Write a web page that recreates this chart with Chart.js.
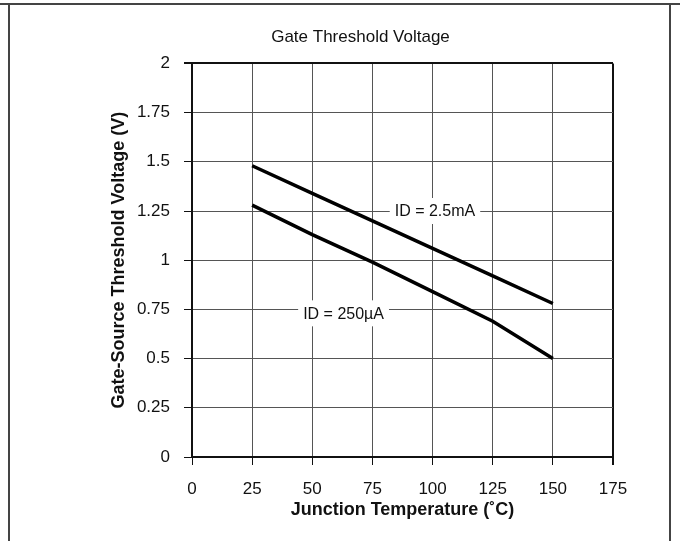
<!DOCTYPE html>
<html>
<head>
<meta charset="utf-8">
<script src="https://cdn.jsdelivr.net/npm/chart.js@4"></script>
<style>
  html, body { margin: 0; padding: 0; background: #fff; }
  #wrap { width: 680px; height: 541px; }
</style>
</head>
<body>
<div id="wrap"><canvas id="grafico" width="680" height="541"></canvas></div>
<script>
// Datos
const temperaturas = [25, 50, 75, 100, 125, 150];
const vth25mA = [1.48, 1.34, 1.20, 1.06, 0.92, 0.78];
const vth250uA = [1.28, 1.13, 0.99, 0.84, 0.69, 0.50];

const xTicks = [0, 25, 50, 75, 100, 125, 150, 175];
const yTicks = [0, 0.25, 0.5, 0.75, 1, 1.25, 1.5, 1.75, 2];
const yTickLabels = ["0", "0.25", "0.5", "0.75", "1", "1.25", "1.5", "1.75", "2"];

const etiquetas = ["ID = 2.5mA", "ID = 250µA"];
const etiquetasX = [101, 63];
const etiquetasY = [1.25, 0.73];

const fuente = "'Liberation Sans', Arial, sans-serif";

// marco exterior de la figura
const marco = {
  id: "marco",
  beforeDraw(chart) {
    const ctx = chart.ctx;
    ctx.save();
    ctx.fillStyle = "#fff";
    ctx.fillRect(0, 0, chart.width, chart.height);
    ctx.strokeStyle = "#444";
    ctx.lineWidth = 2;
    ctx.beginPath();
    ctx.moveTo(0, 4); ctx.lineTo(chart.width, 4);
    ctx.moveTo(9, 4); ctx.lineTo(9, chart.height);
    ctx.moveTo(670, 4); ctx.lineTo(670, chart.height);
    ctx.stroke();
    ctx.restore();
  }
};

// etiquetas de cada curva con fondo blanco
const rotulos = {
  id: "rotulos",
  afterDatasetsDraw(chart) {
    const { ctx, scales } = chart;
    ctx.save();
    ctx.font = "16px " + fuente;
    ctx.textAlign = "center";
    ctx.textBaseline = "middle";
    etiquetas.forEach((t, i) => {
      const px = scales.x.getPixelForValue(etiquetasX[i]);
      const py = scales.y.getPixelForValue(etiquetasY[i]);
      const w = ctx.measureText(t).width + 10;
      ctx.fillStyle = "#fff";
      ctx.fillRect(px - w / 2, py - 13, w, 26);
      ctx.fillStyle = "#111";
      ctx.fillText(t, px, py + 1);
    });
    ctx.restore();
  }
};

function colorGrid(ctx, max) {
  const v = ctx.tick ? ctx.tick.value : null;
  return v === max ? "#111" : "#555";
}
function anchoGrid(ctx, max) {
  const v = ctx.tick ? ctx.tick.value : null;
  return v === max ? 2 : 1;
}

new Chart(document.getElementById("grafico"), {
  type: "line",
  data: {
    labels: temperaturas,
    datasets: [
      { label: etiquetas[0], data: temperaturas.map((t, i) => ({ x: t, y: vth25mA[i] })) },
      { label: etiquetas[1], data: temperaturas.map((t, i) => ({ x: t, y: vth250uA[i] })) }
    ]
  },
  options: {
    responsive: false,
    animation: false,
    devicePixelRatio: 1,
    layout: { padding: { left: 108, right: 67, top: 0, bottom: 20 } },
    elements: {
      line: { borderColor: "#000", borderWidth: 3.5, tension: 0 },
      point: { radius: 0 }
    },
    plugins: {
      legend: { display: false },
      tooltip: { enabled: false },
      title: {
        display: true,
        text: "Gate Threshold Voltage",
        color: "#111",
        font: { family: fuente, size: 17, weight: "normal", lineHeight: 1.2 },
        padding: { top: 27, bottom: 16 }
      }
    },
    scales: {
      x: {
        type: "linear",
        min: 0, max: 175,
        afterBuildTicks: s => { s.ticks = xTicks.map(v => ({ value: v })); },
        afterFit: s => { s.height = 64; },
        ticks: { color: "#111", font: { family: fuente, size: 17 }, padding: 14, maxRotation: 0 },
        grid: {
          color: c => colorGrid(c, 175),
          lineWidth: c => anchoGrid(c, 175),
          tickLength: 8,
          tickColor: "#111"
        },
        border: { color: "#111", width: 2 },
        title: {
          display: true,
          text: "Junction Temperature (˚C)",
          color: "#111",
          font: { family: fuente, size: 18, weight: "bold" },
          padding: { top: 0, bottom: 0 }
        }
      },
      y: {
        min: 0, max: 2,
        afterBuildTicks: s => { s.ticks = yTicks.map(v => ({ value: v })); },
        afterFit: s => { s.width = 84; },
        ticks: {
          color: "#111",
          font: { family: fuente, size: 17 },
          padding: 14,
          callback: (v, i) => yTickLabels[i]
        },
        grid: {
          color: c => colorGrid(c, 2),
          lineWidth: c => anchoGrid(c, 2),
          tickLength: 8,
          tickColor: "#111"
        },
        border: { color: "#111", width: 2 },
        title: {
          display: true,
          text: "Gate-Source Threshold Voltage (V)",
          color: "#111",
          font: { family: fuente, size: 18, weight: "bold" },
          padding: { top: 0, bottom: 0 }
        }
      }
    }
  },
  plugins: [marco, rotulos]
});
</script>
</body>
</html>
